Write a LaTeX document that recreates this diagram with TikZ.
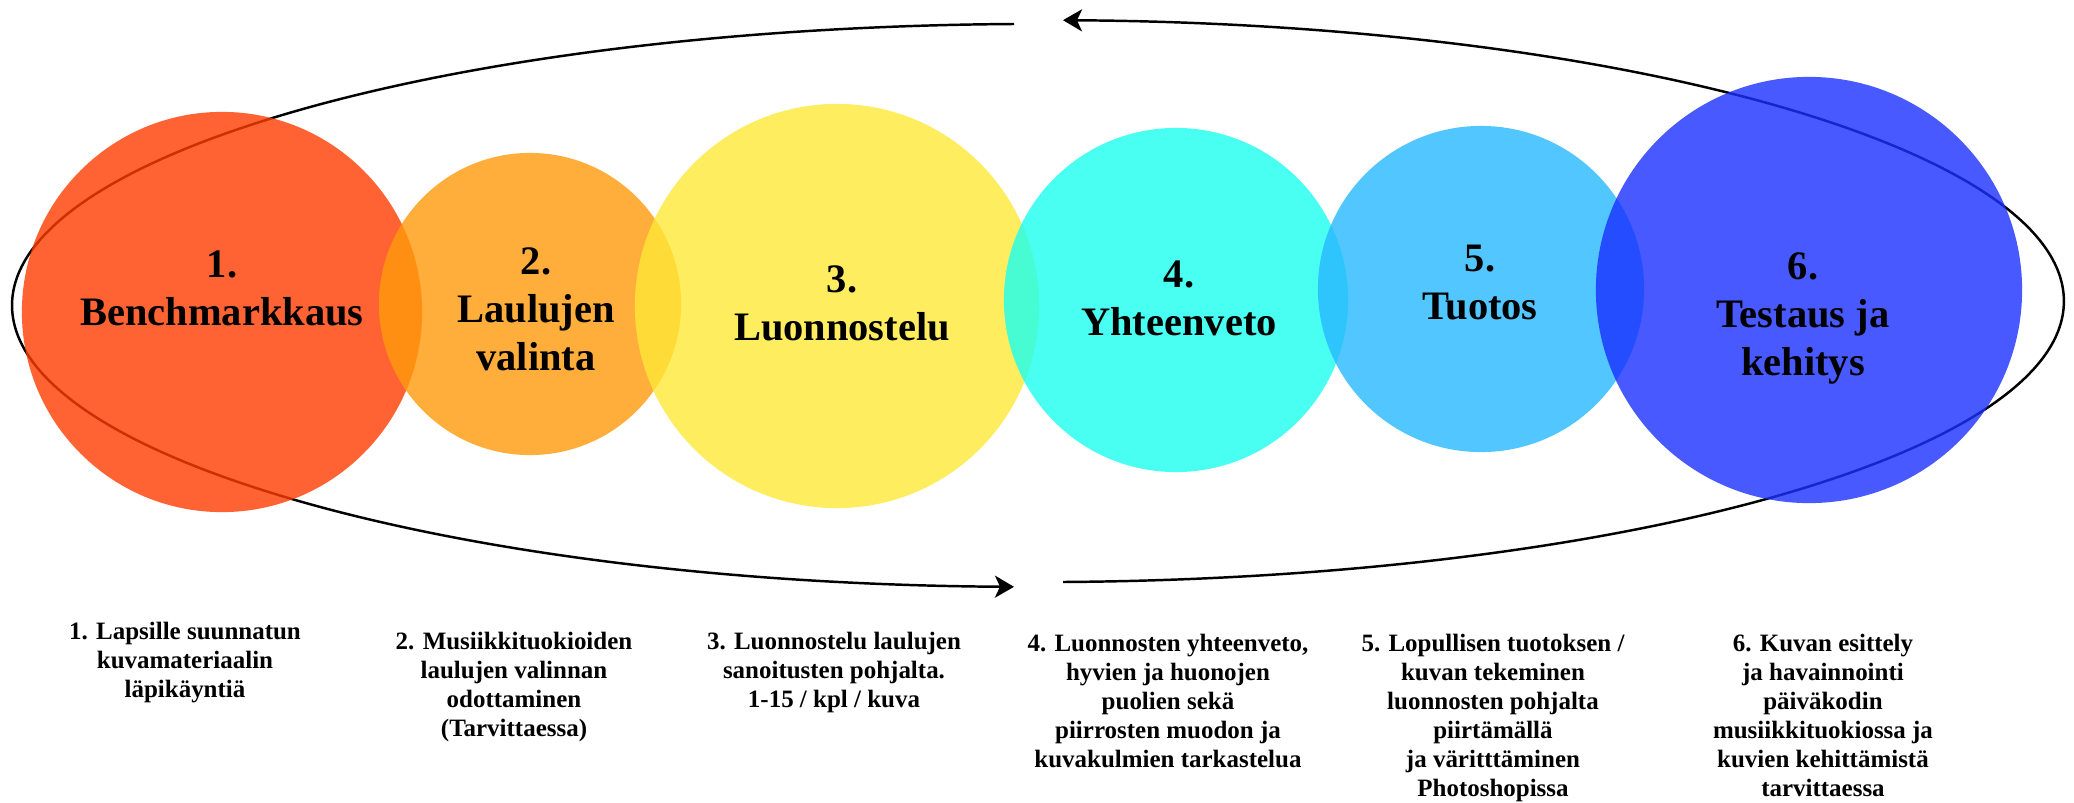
\documentclass[tikz,border=0pt]{standalone}
\usepackage{fontspec}
\setmainfont{Liberation Serif}
\usetikzlibrary{arrows.meta}

\definecolor{redc}{RGB}{255,60,0}
\definecolor{orangec}{RGB}{255,154,11}
\definecolor{yellowc}{RGB}{255,232,56}
\definecolor{cyanc}{RGB}{26,255,239}
\definecolor{lbluec}{RGB}{39,184,255}
\definecolor{bluec}{RGB}{25,48,255}

\tikzset{
  bubble/.style={circle, inner sep=0pt, draw=none, fill opacity=0.8},
  ttl/.style={font=\fontsize{11.5}{13.6}\selectfont\bfseries, align=center},
  desc/.style={font=\fontsize{7.1}{8.25}\selectfont\bfseries, align=center, anchor=north, inner sep=0pt},
  cyc/.style={line width=0.7pt}
}

\begin{document}
\begin{tikzpicture}[x=0.01cm, y=0.01cm, >={Stealth[length=0.19cm,width=0.22cm,inset=0.05cm]}]
\useasboundingbox (0,0) rectangle (2074,802);

% the cycle round the steps
  \coordinate (topL) at (1014,778);
  \coordinate (botR) at (1063,220);
  \draw[->, cyc] (topL) arc[start angle=91.34, end angle=268.66, x radius=1026, y radius=281.5];
  \draw[->, cyc] (botR) arc[start angle=-88.6, end angle=88.6, x radius=1026, y radius=281];

% define the steps
  \node[bubble, fill=redc,    minimum size=4cm]    (c1) at (222,490)  {};
  \node[bubble, fill=orangec, minimum size=3.02cm] (c2) at (530,498)  {};
  \node[bubble, fill=yellowc, minimum size=4.04cm] (c3) at (837,496)  {};
  \node[bubble, fill=cyanc,   minimum size=3.44cm] (c4) at (1176,502) {};
  \node[bubble, fill=lbluec,  minimum size=3.26cm] (c5) at (1481,513) {};
  \node[bubble, fill=bluec,   minimum size=4.26cm] (c6) at (1809,512) {};

  \node[ttl] (t1) at (222,514)    {1.\\Benchmarkkaus};
  \node[ttl] (t2) at (536,493)    {2.\\Laulujen\\valinta};
  \node[ttl] (t3) at (842,498.5)  {3.\\Luonnostelu};
  \node[ttl] (t4) at (1179,503.5) {4.\\Yhteenveto};
  \node[ttl] (t5) at (1480,519.5) {5.\\Tuotos};
  \node[ttl] (t6) at (1803,483.5) {6.\\Testaus ja\\kehitys};

% define the descriptions
  \node[desc] (d1) at (185,181)
{1. Lapsille suunnatun\\kuvamateriaalin\\läpikäyntiä};
  \node[desc] (d2) at (514,171)
{2. Musiikkituokioiden\\laulujen valinnan\\odottaminen\\(Tarvittaessa)};
  \node[desc] (d3) at (834,171)
{3. Luonnostelu laulujen\\sanoitusten pohjalta.\\1-15 / kpl / kuva};
  \node[desc] (d4) at (1168,169)
{4. Luonnosten yhteenveto,\\hyvien ja huonojen\\puolien sekä\\piirrosten muodon ja\\kuvakulmien tarkastelua};
  \node[desc] (d5) at (1493,169)
{5. Lopullisen tuotoksen /\\kuvan tekeminen\\luonnosten pohjalta\\piirtämällä\\ja väritttäminen\\Photoshopissa};
  \node[desc] (d6) at (1823,169)
{6. Kuvan esittely\\ja havainnointi\\päiväkodin\\musiikkituokiossa ja\\kuvien kehittämistä\\tarvittaessa};

\end{tikzpicture}
\end{document}
